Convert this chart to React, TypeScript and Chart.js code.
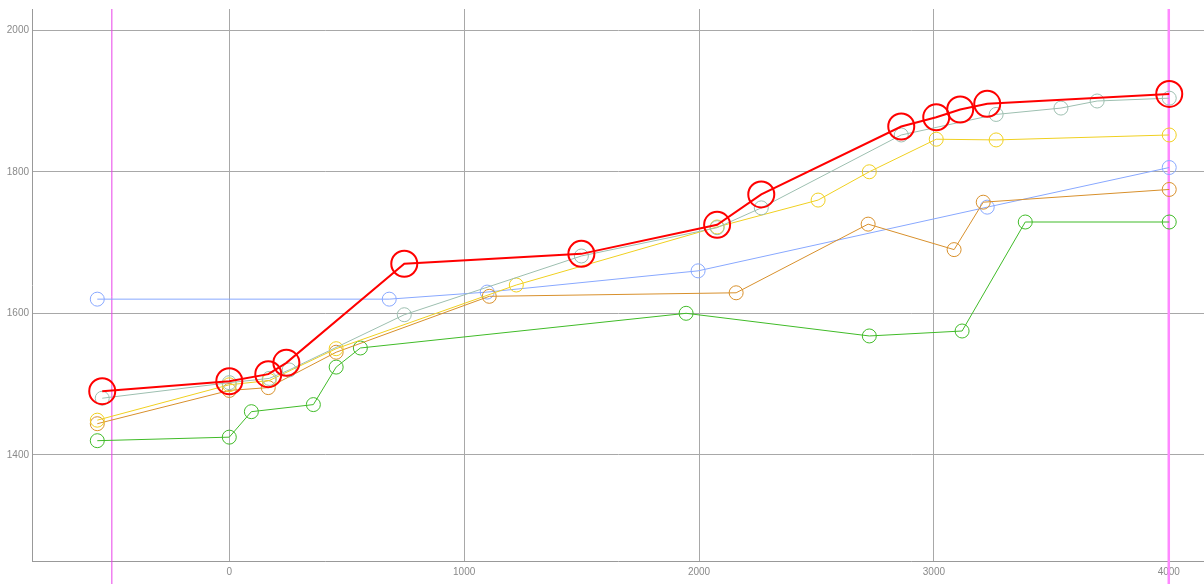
import React, { useEffect, useRef } from "react";
import { Chart, registerables } from "chart.js";

Chart.register(...registerables);

const xTicks = [0, 1000, 2000, 3000, 4000];
const yTicks = [1400, 1600, 1800, 2000];
const markerLinesX = [-500, 4000];

const redX = [-541, 0, 166, 243, 745, 1499, 2077, 2265, 2861, 3010, 3112, 3227, 4002];
const redY = [1490, 1504, 1514, 1530, 1670, 1684, 1725, 1768, 1864, 1877, 1888, 1896, 1910];

const tealX = [-541, 0, 170, 255, 745, 1499, 2077, 2265, 2861, 3265, 3541, 3695, 4002];
const tealY = [1480, 1502, 1508, 1520, 1598, 1681, 1721, 1749, 1852, 1881, 1890, 1900, 1904];

const yellowX = [-562, 0, 170, 455, 1222, 2077, 2507, 2725, 3010, 3265, 4002];
const yellowY = [1449, 1499, 1505, 1550, 1640, 1722, 1760, 1800, 1846, 1845, 1852];

const orangeX = [-562, 0, 166, 455, 1107, 2158, 2720, 3086, 3210, 4002];
const orangeY = [1444, 1491, 1495, 1545, 1624, 1629, 1726, 1690, 1757, 1775];

const blueX = [-562, 681, 1098, 1996, 3227, 4002];
const blueY = [1620, 1620, 1630, 1660, 1750, 1806];

const greenX = [-562, 0, 94, 358, 455, 558, 1945, 2725, 3120, 3389, 4002];
const greenY = [1420, 1425, 1461, 1471, 1524, 1551, 1600, 1568, 1575, 1729, 1729];

const pts = (xs: number[], ys: number[]) => xs.map((x, i) => ({ x, y: ys[i] }));

export default function App() {
  const ref = useRef<HTMLCanvasElement>(null);
  useEffect(() => {
    document.body.style.margin = "0";
    const series = (data: any, color: string, r: number, w: number, order: number) => ({
      data,
      showLine: true,
      borderColor: color,
      backgroundColor: "rgba(0,0,0,0)",
      pointBorderColor: color,
      pointBackgroundColor: "rgba(0,0,0,0)",
      pointRadius: r,
      pointBorderWidth: w,
      borderWidth: w,
      order,
    });
    const chart = new Chart(ref.current!, {
      type: "scatter",
      data: {
        datasets: [
          series(pts(redX, redY), "#ff0000", 13, 2, 0),
          series(pts(tealX, tealY), "#9dbfb0", 7, 1, 1),
          series(pts(yellowX, yellowY), "#f0d020", 7, 1, 2),
          series(pts(orangeX, orangeY), "#d8902c", 7, 1, 3),
          series(pts(blueX, blueY), "#88a8ff", 7, 1, 4),
          series(pts(greenX, greenY), "#40bb28", 7, 1, 5),
          {
            data: [{ x: markerLinesX[0], y: 1217 }, { x: markerLinesX[0], y: 2030 }],
            showLine: true,
            borderColor: "#e840e8",
            borderWidth: 1,
            pointRadius: 0,
            clip: false as any,
            order: 6,
          },
          {
            data: [{ x: markerLinesX[1], y: 1217 }, { x: markerLinesX[1], y: 2030 }],
            showLine: true,
            borderColor: "#ff88ff",
            borderWidth: 2.5,
            pointRadius: 0,
            clip: false as any,
            order: 6,
          },
        ] as any,
      },
      options: {
        animation: false,
        responsive: false,
        layout: { autoPadding: false, padding: { top: 9, left: 0, right: 0, bottom: 0 } },
        plugins: { legend: { display: false }, tooltip: { enabled: false } },
        scales: {
          x: {
            type: "linear",
            min: -840,
            max: 4150,
            afterBuildTicks: (s: any) => {
              s.ticks = xTicks.map((v) => ({ value: v }));
            },
            afterFit: (s: any) => {
              s.height = 23;
              s.paddingLeft = 0;
              s.paddingRight = 0;
            },
            grid: { color: "#a8a8a8", lineWidth: 1, drawTicks: false },
            border: { color: "#999999", width: 1 },
            ticks: {
              padding: 5,
              color: "#8a8a8a",
              font: { family: "Liberation Sans, Arial, sans-serif", size: 10 },
              maxRotation: 0,
              callback: (v: any) => String(v),
            },
          },
          y: {
            type: "linear",
            min: 1250,
            max: 2030,
            afterBuildTicks: (s: any) => {
              s.ticks = yTicks.map((v) => ({ value: v }));
            },
            afterFit: (s: any) => {
              s.width = 32;
              s.paddingTop = 0;
              s.paddingBottom = 0;
            },
            grid: { color: "#a8a8a8", lineWidth: 1, drawTicks: false },
            border: { color: "#999999", width: 1 },
            ticks: {
              padding: 3,
              color: "#8a8a8a",
              font: { family: "Liberation Sans, Arial, sans-serif", size: 10 },
              callback: (v: any) => String(v),
            },
          },
        },
      },
    });
    return () => chart.destroy();
  }, []);
  return (
    <div style={{ position: "fixed", left: 0, top: 0, width: 1204, height: 584, background: "#fff" }}>
      <canvas ref={ref} width={1204} height={584} style={{ width: 1204, height: 584 }} />
    </div>
  );
}
